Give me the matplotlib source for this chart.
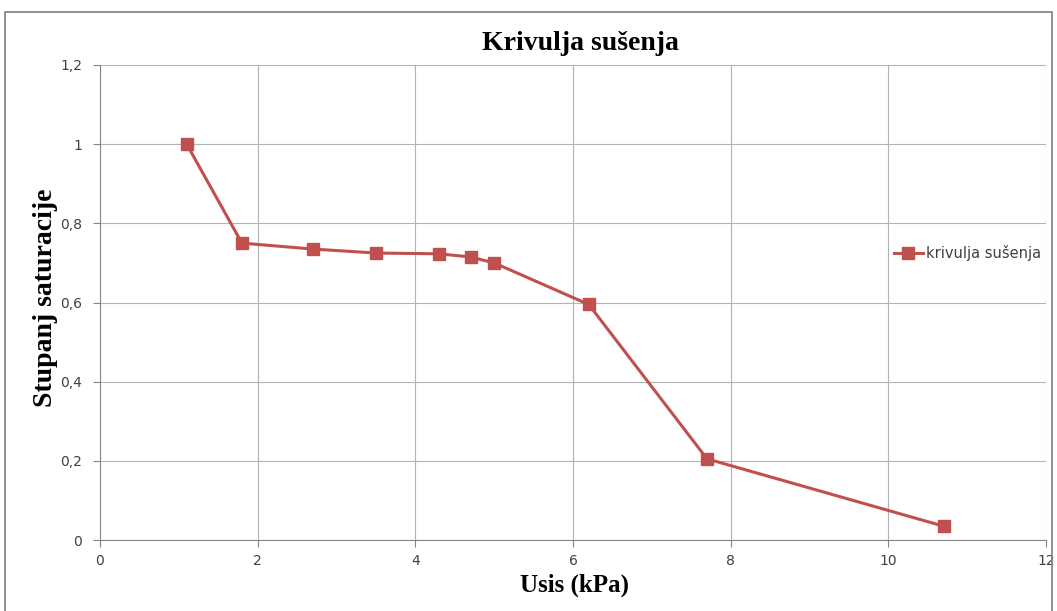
import numpy as np
import matplotlib.pyplot as plt
from matplotlib.patches import Rectangle
from matplotlib.ticker import FuncFormatter

usis = [1.1, 1.8, 2.7, 3.5, 4.3, 4.7, 5.0, 6.2, 7.7, 10.7]
saturacija = [1.0, 0.75, 0.735, 0.725, 0.723, 0.715, 0.70, 0.595, 0.205, 0.035]
x_ticks = [0, 2, 4, 6, 8, 10, 12]
y_ticks = [0, 0.2, 0.4, 0.6, 0.8, 1.0, 1.2]

line_color = '#c0504d'
grid_color = '#b3b3b3'

fig = plt.figure(figsize=(10.57, 6.11), dpi=100)
ax = fig.add_axes([100 / 1057, 71 / 611, 946 / 1057, 475 / 611])

# outer chart frame
fig.patches.append(Rectangle((5 / 1057, -0.05), 1047 / 1057, 1.05 - 12 / 611,
                             transform=fig.transFigure, fill=False,
                             edgecolor='#7f7f7f', linewidth=1.2, clip_on=False))

ax.plot(usis, saturacija, color=line_color, linewidth=2.2, marker='s',
        markersize=8, label='krivulja sušenja', zorder=3)

ax.set_xlim(0, 12)
ax.set_ylim(0, 1.2)
ax.set_xticks(x_ticks)
ax.set_yticks(y_ticks)
ax.yaxis.set_major_formatter(FuncFormatter(lambda v, p: ('%g' % round(v, 1)).replace('.', ',')))
ax.grid(True, color=grid_color, linewidth=0.8)
for s in ['top', 'right']:
    ax.spines[s].set_visible(False)
for s in ['left', 'bottom']:
    ax.spines[s].set_color('#868686')
ax.tick_params(axis='both', colors='#868686', length=5, labelcolor='#404040',
               labelsize=10)
ax.tick_params(axis='x', pad=5)
ax.tick_params(axis='y', pad=8)
for lab in ax.get_xticklabels() + ax.get_yticklabels():
    lab.set_fontfamily('Liberation Sans Narrow')

fig.text(580 / 1057, 1 - 44 / 611, 'Krivulja sušenja', ha='center', va='center',
         fontsize=20, fontweight='bold', family='Liberation Serif')
fig.text(574 / 1057, 1 - 585 / 611, 'Usis (kPa)', ha='center', va='center',
         fontsize=18, fontweight='bold', family='Liberation Serif')
fig.text(46 / 1057, 1 - 298 / 611, 'Stupanj saturacije', ha='center', va='center',
         rotation=90, fontsize=20, fontweight='bold', family='Liberation Serif')

leg = ax.legend(loc='center left', bbox_to_anchor=(0.825, 0.605), frameon=False,
                fontsize=10.5, handlelength=2.0, handletextpad=0.2)
for t in leg.get_texts():
    t.set_color('#404040')

plt.savefig('out.png', dpi=100)
